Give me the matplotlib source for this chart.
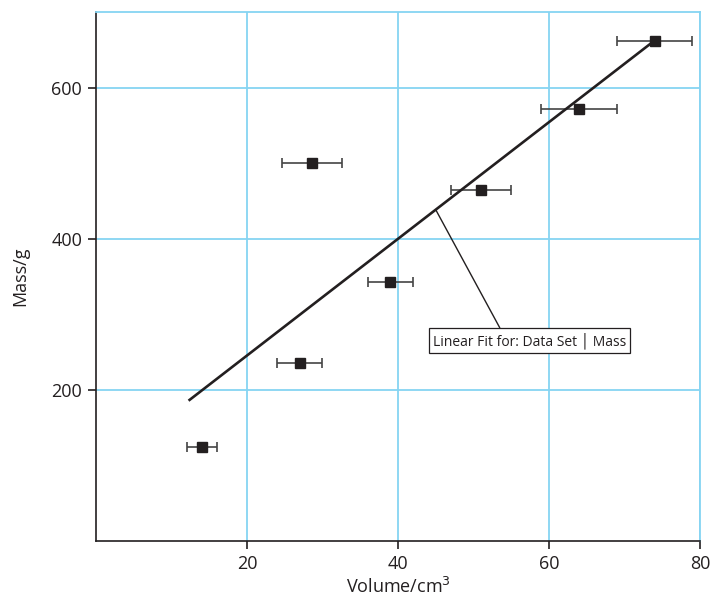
import numpy as np
import matplotlib.pyplot as plt

plt.rcParams['font.family'] = ['Open Sans', 'DejaVu Sans']

# data
volume = [14, 27, 28.6, 39, 51, 64, 74]
mass = [124, 236, 500, 343, 465, 572, 661]
volume_err = [2, 3, 4, 3, 4, 5, 5]
# fitted line as shown on the chart
fit_slope = 7.72
fit_intercept = 91
fit_range = [12.4, 73.8]

grid_col = '#86d4f2'
ink = '#231f20'

fig = plt.figure(figsize=(7.12, 5.98), dpi=100)
ax = fig.add_axes([0.1348, 0.0953, 0.8483, 0.8847])

ax.errorbar(volume, mass, xerr=volume_err, fmt='s', color=ink, ms=7.5,
            ecolor='#444444', elinewidth=1.2, capsize=3.5, capthick=1.2, zorder=3)

xs = np.array(fit_range)
ax.plot(xs, fit_slope * xs + fit_intercept, color=ink, lw=1.9, zorder=4)

px = 45
ax.annotate('Linear Fit for: Data Set │ Mass', xy=(px, fit_slope * px + fit_intercept),
            xytext=(57.4, 265), ha='center', va='center', fontsize=10, color=ink,
            bbox=dict(boxstyle='square,pad=0.3', fc='white', ec=ink, lw=0.9),
            arrowprops=dict(arrowstyle='-', color=ink, lw=1.0, shrinkA=0, shrinkB=0,
                            relpos=(0.36, 1.0)),
            zorder=5)

ax.set_xlim(0, 80)
ax.set_ylim(0, 700)
ax.set_xticks([20, 40, 60, 80])
ax.set_yticks([200, 400, 600])
ax.grid(True, color=grid_col, lw=1.3)
ax.set_axisbelow(True)
for s in ['top', 'right']:
    ax.spines[s].set_color(grid_col)
    ax.spines[s].set_linewidth(1.3)
for s in ['left', 'bottom']:
    ax.spines[s].set_color(ink)
    ax.spines[s].set_linewidth(1.2)
ax.tick_params(direction='out', length=6, width=1.2, color=ink, labelsize=13,
               labelcolor=ink, pad=4)
ax.set_xlabel('Volume/cm$^3$', fontsize=13, color=ink, labelpad=3)
ax.set_ylabel('Mass/g', fontsize=13, color=ink, labelpad=16)

fig.savefig('out.png', dpi=100)
